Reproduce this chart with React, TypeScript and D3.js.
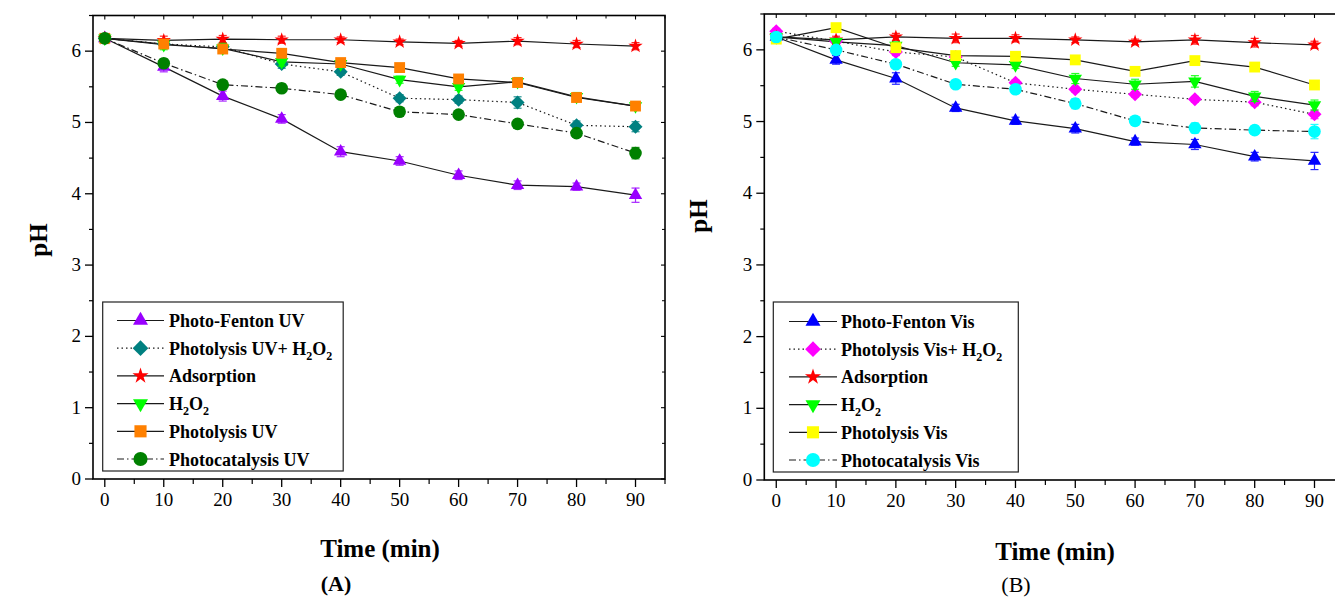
import React from "react";
import * as d3 from "d3";

// ---------- data ----------
const times = [0, 10, 20, 30, 40, 50, 60, 70, 80, 90];
const xTicks = [0, 10, 20, 30, 40, 50, 60, 70, 80, 90];
const xMinorTicks = [5, 15, 25, 35, 45, 55, 65, 75, 85, 95];
const yTicks = [0, 1, 2, 3, 4, 5, 6];
const yMinorTicks = [0.5, 1.5, 2.5, 3.5, 4.5, 5.5, 6.5];

// Panel A (UV)
const uvPhotoFenton = [6.18, 5.78, 5.37, 5.05, 4.59, 4.46, 4.26, 4.12, 4.1, 3.98];
const uvPhotoFentonErr = [0.04, 0.07, 0.07, 0.06, 0.07, 0.06, 0.06, 0.06, 0.05, 0.1];
const uvPhotolysisH2O2 = [6.18, 6.1, 6.06, 5.82, 5.71, 5.34, 5.32, 5.28, 4.96, 4.94];
const uvPhotolysisH2O2Err = [0.04, 0.05, 0.05, 0.06, 0.05, 0.05, 0.05, 0.08, 0.06, 0.07];
const uvAdsorption = [6.18, 6.15, 6.17, 6.16, 6.16, 6.13, 6.11, 6.14, 6.1, 6.07];
const uvAdsorptionErr = [0.04, 0.06, 0.05, 0.05, 0.04, 0.04, 0.04, 0.05, 0.05, 0.05];
const uvH2O2 = [6.18, 6.09, 6.04, 5.85, 5.82, 5.6, 5.5, 5.57, 5.36, 5.23];
const uvH2O2Err = [0.05, 0.07, 0.07, 0.06, 0.05, 0.05, 0.05, 0.06, 0.06, 0.06];
const uvPhotolysis = [6.18, 6.1, 6.03, 5.97, 5.84, 5.77, 5.61, 5.56, 5.35, 5.23];
const uvPhotolysisErr = [0.04, 0.04, 0.04, 0.04, 0.04, 0.04, 0.04, 0.04, 0.04, 0.04];
const uvPhotocatalysis = [6.18, 5.83, 5.53, 5.48, 5.39, 5.15, 5.11, 4.98, 4.85, 4.57];
const uvPhotocatalysisErr = [0.04, 0.06, 0.05, 0.06, 0.04, 0.06, 0.05, 0.06, 0.06, 0.08];

// Panel B (Vis)
const visPhotoFenton = [6.18, 5.86, 5.6, 5.19, 5.01, 4.9, 4.72, 4.68, 4.51, 4.45];
const visPhotoFentonErr = [0.04, 0.06, 0.08, 0.05, 0.05, 0.06, 0.05, 0.07, 0.06, 0.12];
const visPhotolysisH2O2 = [6.26, 6.12, 5.97, 5.9, 5.54, 5.45, 5.38, 5.31, 5.27, 5.1];
const visPhotolysisH2O2Err = [0.04, 0.04, 0.05, 0.04, 0.04, 0.04, 0.04, 0.04, 0.05, 0.06];
const visAdsorption = [6.18, 6.14, 6.18, 6.16, 6.16, 6.14, 6.11, 6.14, 6.1, 6.07];
const visAdsorptionErr = [0.04, 0.05, 0.05, 0.06, 0.05, 0.04, 0.04, 0.06, 0.06, 0.05];
const visH2O2 = [6.18, 6.11, 6.06, 5.82, 5.79, 5.6, 5.52, 5.56, 5.35, 5.23];
const visH2O2Err = [0.05, 0.05, 0.05, 0.05, 0.05, 0.07, 0.07, 0.08, 0.07, 0.07];
const visPhotolysis = [6.15, 6.31, 6.03, 5.92, 5.91, 5.86, 5.7, 5.85, 5.76, 5.51];
const visPhotolysisErr = [0.03, 0.03, 0.05, 0.04, 0.04, 0.03, 0.03, 0.03, 0.03, 0.03];
const visPhotocatalysis = [6.18, 6.0, 5.8, 5.52, 5.45, 5.25, 5.01, 4.91, 4.88, 4.86];
const visPhotocatalysisErr = [0.04, 0.06, 0.05, 0.04, 0.06, 0.07, 0.05, 0.07, 0.06, 0.1];

const uvLabels = [
  "Photo-Fenton UV",
  "Photolysis UV+ H_2O_2",
  "Adsorption",
  "H_2O_2",
  "Photolysis UV",
  "Photocatalysis UV",
];
const visLabels = [
  "Photo-Fenton Vis",
  "Photolysis Vis+ H_2O_2",
  "Adsorption",
  "H_2O_2",
  "Photolysis Vis",
  "Photocatalysis Vis",
];

// ---------- styles ----------
type Sym = "triUp" | "triDown" | "diamond" | "star" | "square" | "circle";
interface Series {
  label: string;
  values: number[];
  errors: number[];
  color: string;
  symbol: Sym;
  dash: string | undefined;
}

const symbols: Sym[] = ["triUp", "diamond", "star", "triDown", "square", "circle"];
const dashes = [undefined, "1.5,3", undefined, undefined, undefined, "7,3,1.5,3"];
const uvColors = ["#9900FF", "#008080", "#FF0000", "#00FF00", "#FF8000", "#008000"];
const visColors = ["#0000FF", "#FF00FF", "#FF0000", "#00FF00", "#FFFF00", "#00FFFF"];

const uvValues = [uvPhotoFenton, uvPhotolysisH2O2, uvAdsorption, uvH2O2, uvPhotolysis, uvPhotocatalysis];
const uvErrors = [uvPhotoFentonErr, uvPhotolysisH2O2Err, uvAdsorptionErr, uvH2O2Err, uvPhotolysisErr, uvPhotocatalysisErr];
const visValues = [visPhotoFenton, visPhotolysisH2O2, visAdsorption, visH2O2, visPhotolysis, visPhotocatalysis];
const visErrors = [visPhotoFentonErr, visPhotolysisH2O2Err, visAdsorptionErr, visH2O2Err, visPhotolysisErr, visPhotocatalysisErr];

const uvSeries: Series[] = uvLabels.map((label, i) => ({
  label, values: uvValues[i], errors: uvErrors[i], color: uvColors[i], symbol: symbols[i], dash: dashes[i],
}));
const visSeries: Series[] = visLabels.map((label, i) => ({
  label, values: visValues[i], errors: visErrors[i], color: visColors[i], symbol: symbols[i], dash: dashes[i],
}));

const FONT = '"Liberation Serif","DejaVu Serif",serif';

function symbolPath(s: Sym, k: number): { d: string; rot: number } {
  switch (s) {
    case "triUp":
      return { d: d3.symbol(d3.symbolTriangle, 78 * k)() as string, rot: 0 };
    case "triDown":
      return { d: d3.symbol(d3.symbolTriangle, 78 * k)() as string, rot: 180 };
    case "star":
      return { d: d3.symbol(d3.symbolStar, 64 * k)() as string, rot: 0 };
    case "square":
      return { d: d3.symbol(d3.symbolSquare, 118 * k)() as string, rot: 0 };
    case "circle":
      return { d: d3.symbol(d3.symbolCircle, 125 * k)() as string, rot: 0 };
    case "diamond":
      return { d: d3.symbol(d3.symbolSquare, 98 * k)() as string, rot: 45 };
  }
}

function Marker({ s, cx, cy, color, k = 1 }: { s: Sym; cx: number; cy: number; color: string; k?: number }) {
  const p = symbolPath(s, k);
  return <path d={p.d} transform={`translate(${cx},${cy}) rotate(${p.rot})`} fill={color} stroke="none" />;
}

function Rich({ text }: { text: string }) {
  const parts = text.split(/_(\d)/);
  const out: React.ReactNode[] = [];
  let shifted = false;
  parts.forEach((p, i) => {
    if (p === "") return;
    if (i % 2 === 1) {
      out.push(
        <tspan key={i} fontSize={12} dy={shifted ? 0 : 5}>
          {p}
        </tspan>
      );
      shifted = true;
    } else {
      out.push(
        <tspan key={i} dy={shifted ? -5 : 0}>
          {p}
        </tspan>
      );
      shifted = false;
    }
  });
  return <>{out}</>;
}

interface Layout {
  left: number;
  right: number;
  top: number;
  bottom: number;
  legend: { x: number; y: number; w: number; h: number; row0: number; rowStep: number; lx0: number; lx1: number; tx: number };
  yTitle: [number, number];
  xTitle: [number, number];
  tag: [number, number];
  tagText: string;
  tagBold: boolean;
}

const layoutA: Layout = {
  left: 93, right: 665, top: 15.5, bottom: 479,
  legend: { x: 102.7, y: 302, w: 240.5, h: 169, row0: 320.5, rowStep: 27.7, lx0: 117, lx1: 164, tx: 169 },
  yTitle: [47, 240], xTitle: [380, 557], tag: [336, 591], tagText: "(A)", tagBold: true,
};
const layoutB: Layout = {
  left: 764.3, right: 1344.4, top: 14, bottom: 480,
  legend: { x: 773.3, y: 302, w: 245, h: 170, row0: 321.5, rowStep: 27.7, lx0: 789, lx1: 837, tx: 841 },
  yTitle: [707, 216], xTitle: [1055, 560], tag: [1016, 592], tagText: "(B)", tagBold: false,
};

function Panel({ L, series }: { L: Layout; series: Series[] }) {
  const x = d3.scaleLinear().domain([-2, 95]).range([L.left, L.right]);
  const y = d3.scaleLinear().domain([0, 6.5]).range([L.bottom, L.top]);
  const line = d3
    .line<number>()
    .x((_, i) => x(times[i]))
    .y((d) => y(d));
  const ax = "#000";
  return (
    <g>
      {series.map((s, k) => (
        <path key={"l" + k} d={line(s.values) as string} fill="none" stroke="#1a1a1a" strokeWidth={1.2} strokeDasharray={s.dash} />
      ))}
      {series.map((s, k) => (
        <g key={"m" + k}>
          {s.values.map((v, i) => {
            const cx = x(times[i]);
            const y1 = y(v + s.errors[i]);
            const y2 = y(v - s.errors[i]);
            return (
              <g key={i} stroke={s.color} strokeWidth={1.2} opacity={0.85}>
                <line x1={cx} x2={cx} y1={y1} y2={y2} />
                <line x1={cx - 4} x2={cx + 4} y1={y1} y2={y1} />
                <line x1={cx - 4} x2={cx + 4} y1={y2} y2={y2} />
              </g>
            );
          })}
          {s.values.map((v, i) => (
            <Marker key={"p" + i} s={s.symbol} cx={x(times[i])} cy={y(v)} color={s.color} />
          ))}
        </g>
      ))}
      <rect x={L.left} y={L.top} width={L.right - L.left} height={L.bottom - L.top} fill="none" stroke={ax} strokeWidth={1.6} />
      {xTicks.map((t) => (
        <g key={"xt" + t}>
          <line x1={x(t)} x2={x(t)} y1={L.bottom} y2={L.bottom + 8} stroke={ax} strokeWidth={1.3} />
          <line x1={x(t)} x2={x(t)} y1={L.top} y2={L.top + 4} stroke={ax} strokeWidth={1.1} />
          <text x={x(t)} y={L.bottom + 27} textAnchor="middle" fontSize={19} fontFamily={FONT}>
            {t}
          </text>
        </g>
      ))}
      {xMinorTicks.map((t) => (
        <g key={"xm" + t}>
          <line x1={x(t)} x2={x(t)} y1={L.bottom} y2={L.bottom + 5} stroke={ax} strokeWidth={1.2} />
          <line x1={x(t)} x2={x(t)} y1={L.top} y2={L.top + 3} stroke={ax} strokeWidth={1} />
        </g>
      ))}
      {yTicks.map((t) => (
        <g key={"yt" + t}>
          <line x1={L.left - 8} x2={L.left} y1={y(t)} y2={y(t)} stroke={ax} strokeWidth={1.3} />
          <line x1={L.right - 4} x2={L.right} y1={y(t)} y2={y(t)} stroke={ax} strokeWidth={1.1} />
          <text x={L.left - 12} y={y(t) + 6} textAnchor="end" fontSize={19} fontFamily={FONT}>
            {t}
          </text>
        </g>
      ))}
      {yMinorTicks.map((t) => (
        <g key={"ym" + t}>
          <line x1={L.left - 4} x2={L.left} y1={y(t)} y2={y(t)} stroke={ax} strokeWidth={1.2} />
          <line x1={L.right - 3} x2={L.right} y1={y(t)} y2={y(t)} stroke={ax} strokeWidth={1} />
        </g>
      ))}
      <rect x={L.legend.x} y={L.legend.y} width={L.legend.w} height={L.legend.h} fill="#fff" stroke="#222" strokeWidth={1.2} />
      {series.map((s, k) => {
        const ry = L.legend.row0 + k * L.legend.rowStep;
        const mx = (L.legend.lx0 + L.legend.lx1) / 2;
        return (
          <g key={"lg" + k}>
            <line x1={L.legend.lx0} x2={L.legend.lx1} y1={ry} y2={ry} stroke="#1a1a1a" strokeWidth={1.2} strokeDasharray={s.dash} />
            <Marker s={s.symbol} cx={mx} cy={ry} color={s.color} k={1.25} />
            <text x={L.legend.tx} y={ry + 6.5} fontSize={18} fontWeight="bold" fontFamily={FONT}>
              <Rich text={s.label} />
            </text>
          </g>
        );
      })}
      <text transform={`translate(${L.yTitle[0]},${L.yTitle[1]}) rotate(-90)`} textAnchor="middle" fontSize={25} fontWeight="bold" fontFamily={FONT}>
        pH
      </text>
      <text x={L.xTitle[0]} y={L.xTitle[1]} textAnchor="middle" fontSize={25} fontWeight="bold" fontFamily={FONT}>
        Time (min)
      </text>
      <text x={L.tag[0]} y={L.tag[1]} textAnchor="middle" fontSize={22} fontWeight={L.tagBold ? "bold" : "normal"} fontFamily={FONT}>
        {L.tagText}
      </text>
    </g>
  );
}

export default function App() {
  return (
    <svg width={1335} height={599} style={{ position: "absolute", left: 0, top: 0, display: "block" }}>
      <rect width={1335} height={599} fill="#fff" />
      <Panel L={layoutA} series={uvSeries} />
      <Panel L={layoutB} series={visSeries} />
    </svg>
  );
}
